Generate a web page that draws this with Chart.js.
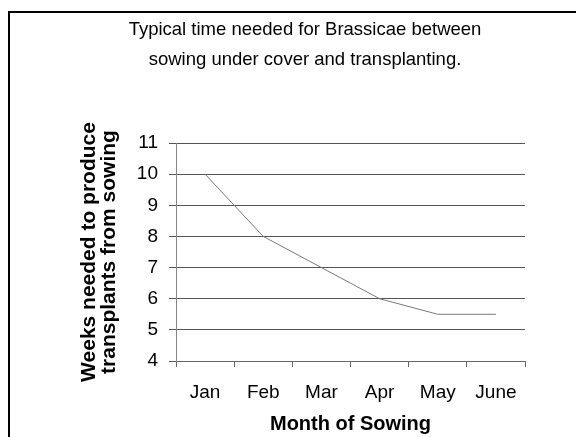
<!DOCTYPE html>
<html>
<head>
<meta charset="utf-8">
<script src="https://cdn.jsdelivr.net/npm/chart.js@4/dist/chart.umd.min.js"></script>
<style>
  html, body { margin: 0; padding: 0; background: #ffffff; overflow: hidden; }
  #wrap { position: relative; width: 610px; height: 437px; }
</style>
</head>
<body>
<div id="wrap"><canvas id="chart" width="610" height="437"></canvas></div>
<script>
// Sowing months and the weeks each batch takes before it is ready to transplant
const months = ['Jan', 'Feb', 'Mar', 'Apr', 'May', 'June'];
const weeksToTransplant = [10, 8, 7, 6, 5.5, 5.5];
const weekTicks = [4, 5, 6, 7, 8, 9, 10, 11];

const titleLines = ['Typical time needed for Brassicae between', 'sowing under cover and transplanting.'];
const yTitleLines = ['Weeks needed to produce', 'transplants from sowing'];
const xTitle = 'Month of Sowing';

const FONT = 'Arial, "Liberation Sans", Helvetica, sans-serif';

// Thin black frame around the whole chart
const framePlugin = {
  id: 'frame',
  beforeDraw(chart) {
    const ctx = chart.ctx;
    ctx.save();
    ctx.fillStyle = '#ffffff';
    ctx.fillRect(0, 0, chart.width, chart.height);
    ctx.strokeStyle = '#000000';
    ctx.lineWidth = 2;
    ctx.strokeRect(9, 12, chart.width + 20, chart.height + 20);
    ctx.restore();
  }
};

new Chart(document.getElementById('chart'), {
  type: 'line',
  data: {
    labels: months,
    datasets: [{
      data: weeksToTransplant,
      borderColor: '#7a7a7a',
      borderWidth: 1,
      pointRadius: 0,
      tension: 0,
      fill: false
    }]
  },
  options: {
    responsive: false,
    animation: false,
    devicePixelRatio: 1,
    layout: { padding: { left: 85, right: 85, top: 0, bottom: 0 } },
    plugins: {
      legend: { display: false },
      tooltip: { enabled: false },
      title: {
        display: true,
        text: titleLines,
        color: '#000000',
        font: { family: FONT, size: 18.5, weight: 'normal', lineHeight: 30 / 18.5 },
        padding: { top: 15, bottom: 68 }
      }
    },
    scales: {
      x: {
        type: 'category',
        offset: true,
        afterFit(scale) { scale.height = 76; },
        grid: {
          offset: true,
          drawOnChartArea: false,
          drawTicks: true,
          tickLength: 6,
          tickColor: '#666666',
          lineWidth: 1
        },
        border: { display: true, color: '#666666', width: 1 },
        ticks: {
          color: '#000000',
          padding: 14,
          maxRotation: 0,
          autoSkip: false,
          font: { family: FONT, size: 19 }
        },
        title: {
          display: true,
          text: xTitle,
          color: '#000000',
          font: { family: FONT, size: 20, weight: 'bold', lineHeight: 1.2 },
          padding: { top: 0, bottom: 1 }
        }
      },
      y: {
        min: 4,
        max: 11,
        afterFit(scale) { scale.width = 91; },
        afterBuildTicks(scale) { scale.ticks = weekTicks.map(v => ({ value: v })); },
        grid: {
          color: '#555555',
          lineWidth: 1,
          drawTicks: true,
          tickLength: 7,
          tickColor: '#555555'
        },
        border: { display: true, color: '#888888', width: 1 },
        ticks: {
          color: '#000000',
          padding: 11,
          font: { family: FONT, size: 19 }
        },
        title: {
          display: true,
          text: yTitleLines,
          color: '#000000',
          font: { family: FONT, size: 21, weight: 'bold', lineHeight: 20 / 21 },
          padding: { top: -6, bottom: 0 }
        }
      }
    }
  },
  plugins: [framePlugin]
});
</script>
</body>
</html>
